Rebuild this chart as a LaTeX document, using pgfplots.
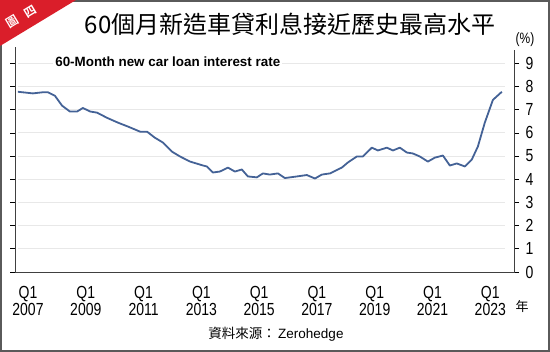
\documentclass[border=0pt]{standalone}
\usepackage{pgfplots}
\pgfplotsset{compat=1.18}
\usepackage{fontspec}
\setmainfont{Liberation Sans}
\newfontfamily\narrowfont[FakeStretch=0.8]{Liberation Sans}
\newfontfamily\cjk{Noto Sans CJK TC}
\newfontfamily\cjkbold{Noto Sans CJK TC Bold}
\definecolor{linecol}{RGB}{68,98,150}
\definecolor{gridcol}{RGB}{232,232,232}
\definecolor{framecol}{RGB}{90,90,90}
\definecolor{tagred}{RGB}{218,30,42}
\begin{document}
\begin{tikzpicture}
\useasboundingbox (0pt,0pt) rectangle (550pt,352pt);
\draw[framecol,line width=1.4pt] (1pt,1pt) rectangle (549pt,351pt);
\fill[tagred] (0pt,352pt) -- (76pt,352pt) -- (0pt,306pt) -- cycle;
\node[rotate=31,text=white,inner sep=0pt,font={\cjkbold\fontsize{12}{12}\selectfont}] at (12.5pt,330pt) {圖};
\node[rotate=31,text=white,inner sep=0pt,font={\cjkbold\fontsize{12}{12}\selectfont}] at (30pt,340.5pt) {四};
\node[font={\cjk\fontsize{24}{24}\selectfont}] at (290pt,328pt) {60個月新造車貸利息接近歷史最高水平};
\begin{axis}[
  at={(15pt,80pt)}, anchor=south west,
  scale only axis, width=499pt, height=225pt,
  xmin=2006.55, xmax=2023.82, ymin=0, ymax=9.7,
  axis line style={draw=none},
  xtick={2007,2009,...,2023},
  xticklabels={Q1\\2007,Q1\\2009,Q1\\2011,Q1\\2013,Q1\\2015,Q1\\2017,Q1\\2019,Q1\\2021,Q1\\2023},
  xticklabel style={align=center,font={\narrowfont\fontsize{17.5}{14.5}\selectfont},yshift=-6pt},
  x tick style={draw=none},
  ytick={0,1,...,9},
  yticklabel pos=right,
  yticklabel style={anchor=west,font={\narrowfont\fontsize{17.5}{16}\selectfont},xshift=3pt},
  y tick style={draw=black,line width=0.6pt},
  tick align=outside, major tick length=5pt,
  /pgf/number format/assume math mode=true,
  clip=false,
]
\pgfplotsinvokeforeach{1,...,9}{
  \draw[gridcol,line width=1pt] (axis cs:2006.65,#1) -- (axis cs:2023.5,#1);
}
\draw[black!75,line width=0.8pt] (rel axis cs:0,1) -- (rel axis cs:0,0) -- (rel axis cs:1,0) -- (axis cs:2023.82,9.57);
\node[anchor=west,fill=white,inner sep=2pt,font={\bfseries\fontsize{13.4}{14}\selectfont}] at (axis cs:2007.87,9.05) {60-Month new car loan interest rate};
\addplot[linecol,line width=1.8pt,line join=round] coordinates {
(2006.65,7.77) (2007.17,7.70) (2007.52,7.75) (2007.69,7.75) (2007.93,7.60)
(2008.18,7.17) (2008.45,6.92) (2008.70,6.92) (2008.90,7.07) (2009.15,6.92)
(2009.39,6.87) (2009.73,6.65) (2010.11,6.44) (2010.46,6.27) (2010.88,6.05)
(2011.12,6.05) (2011.39,5.79) (2011.67,5.58) (2011.98,5.19) (2012.26,4.98)
(2012.61,4.76) (2013.06,4.59) (2013.19,4.55) (2013.40,4.29) (2013.64,4.33)
(2013.92,4.50) (2014.16,4.33) (2014.40,4.42) (2014.61,4.12) (2014.92,4.08)
(2015.13,4.25) (2015.37,4.20) (2015.65,4.25) (2015.89,4.05) (2016.31,4.12)
(2016.65,4.18) (2016.93,4.03) (2017.17,4.20) (2017.45,4.25) (2017.86,4.50)
(2018.07,4.72) (2018.38,4.98) (2018.59,4.98) (2018.90,5.36) (2019.11,5.24)
(2019.42,5.36) (2019.63,5.24) (2019.87,5.36) (2020.11,5.15) (2020.32,5.11)
(2020.56,4.98) (2020.84,4.76) (2021.08,4.93) (2021.36,5.02) (2021.60,4.59)
(2021.84,4.68) (2022.12,4.55) (2022.36,4.85) (2022.57,5.41) (2022.81,6.44)
(2023.09,7.42) (2023.40,7.77)
};
\end{axis}
\node[font={\narrowfont\fontsize{15}{15}\selectfont}] at (525pt,312pt) {(\%)};
\node[font={\cjk\fontsize{13}{13}\selectfont}] at (522pt,45pt) {年};
\node[font={\fontsize{13.5}{14}\selectfont}] at (276pt,18pt) {{\cjk 資料來源：}\,Zerohedge};
\end{tikzpicture}
\end{document}
